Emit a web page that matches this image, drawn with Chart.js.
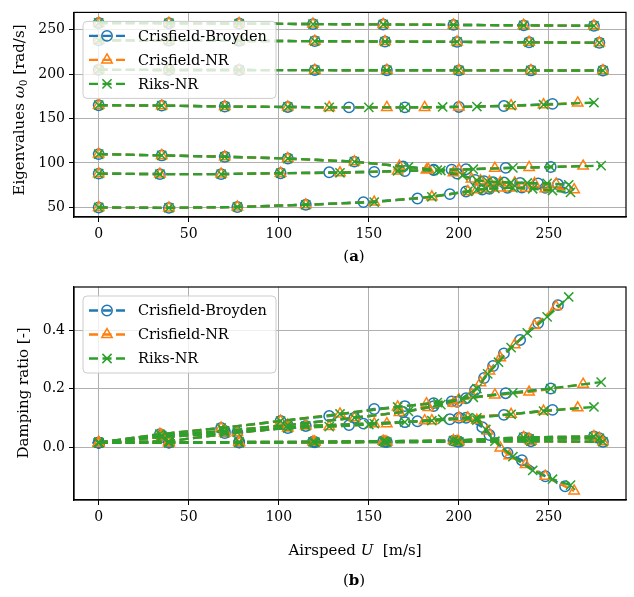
<!DOCTYPE html>
<html><head><meta charset="utf-8">
<script src="https://cdn.jsdelivr.net/npm/chart.js@4.4.0/dist/chart.umd.min.js"></script>
<style>
html,body{margin:0;padding:0;background:#fff;}
#wrap{position:relative;width:634px;height:597px;overflow:hidden;}
#c1{position:absolute;left:0;top:0;}
#c2{position:absolute;left:0;top:270px;}
</style></head><body>
<div id="wrap"><canvas id="c1" width="634" height="270"></canvas><canvas id="c2" width="634" height="327"></canvas></div>
<script>
// ---------- data ----------
const METHODS = ['Crisfield-Broyden', 'Crisfield-NR', 'Riks-NR'];
const X_TICKS = [0, 50, 100, 150, 200, 250];
const W_TICKS = [50, 100, 150, 200, 250];
const Z_TICKS = [0.0, 0.2, 0.4];

// modes 1-3 (identical for all three methods)
const U_M1 = [0, 39, 78, 119, 158, 197, 236, 275];
const W_M1 = [257.5, 257.2, 256.8, 256.2, 255.8, 255.3, 254.8, 254.2];
const Z_M1 = [0.015, 0.016, 0.017, 0.018, 0.020, 0.022, 0.033, 0.036];
const U_M2 = [0, 39, 78, 120, 159, 199, 239, 278];
const W_M2 = [238, 237.6, 237.3, 237, 236.6, 236.2, 235.7, 235.2];
const Z_M2 = [0.015, 0.015, 0.016, 0.017, 0.018, 0.020, 0.028, 0.030];
const U_M3 = [0, 39, 78, 120, 160, 200, 240, 280];
const W_M3 = [204.8, 204.6, 204.5, 204.4, 204.3, 204.2, 204.1, 204];
const Z_M3 = [0.015, 0.015, 0.015, 0.016, 0.017, 0.018, 0.020, 0.018];

// mode 4
const U_CB_M4 = [0, 35, 70, 105, 139, 170, 200, 225, 252];
const W_CB_M4 = [165, 164.5, 163.5, 163, 162.5, 162.5, 163, 164, 166.5];
const Z_CB_M4 = [0.015, 0.034, 0.048, 0.065, 0.075, 0.085, 0.100, 0.110, 0.127];
const U_NR_M4 = [0, 35, 70, 105, 128, 160, 181, 200, 229, 247, 266];
const W_NR_M4 = [165, 164.5, 163.5, 163, 162.5, 162.5, 162.5, 163, 164.5, 165.5, 167.5];
const Z_NR_M4 = [0.015, 0.034, 0.048, 0.065, 0.070, 0.080, 0.090, 0.100, 0.112, 0.123, 0.134];
const U_RK_M4 = [0, 35, 70, 105, 128, 150, 170, 191, 210, 229, 247, 275];
const W_RK_M4 = [165, 164.5, 163.5, 163, 162.5, 162.5, 162.5, 163, 163.5, 164.5, 165.5, 168];
const Z_RK_M4 = [0.015, 0.034, 0.048, 0.065, 0.070, 0.077, 0.085, 0.095, 0.100, 0.112, 0.123, 0.137];

// mode 5
const U_CB_M5 = [0, 35, 70, 105, 142, 169, 186, 199, 209, 214, 219, 225, 234, 244, 255];
const W_CB_M5 = [110, 108.5, 107, 105, 101.5, 96, 92.5, 88, 81, 79.5, 78.5, 78, 77.5, 77, 76];
const Z_CB_M5 = [0.015, 0.040, 0.055, 0.075, 0.100, 0.120, 0.140, 0.155, 0.195, 0.236, 0.277, 0.320, 0.366, 0.424, 0.485];
const U_NR_M5 = [0, 35, 70, 105, 142, 167, 183, 197, 207, 212, 217, 223, 231, 242, 254];
const W_NR_M5 = [110, 108.5, 107, 105, 101.5, 96.5, 93, 89, 82, 80, 79, 78, 77.5, 77, 76.5];
const Z_NR_M5 = [0.015, 0.040, 0.055, 0.075, 0.100, 0.118, 0.135, 0.150, 0.180, 0.220, 0.260, 0.305, 0.350, 0.415, 0.480];
const U_RK_M5 = [0, 35, 70, 105, 142, 172, 190, 202, 210, 216, 222, 229, 238, 249, 261];
const W_RK_M5 = [110, 108.5, 107, 105, 101.5, 95.5, 91.5, 86, 80.5, 79, 78.5, 78, 77.5, 77, 75.5];
const Z_RK_M5 = [0.015, 0.040, 0.055, 0.075, 0.100, 0.122, 0.145, 0.165, 0.200, 0.250, 0.290, 0.340, 0.390, 0.445, 0.513];

// mode 6
const U_CB_M6 = [0, 34, 68, 101, 128, 153, 170, 186, 196, 204, 226, 251];
const W_CB_M6 = [88, 87.5, 87.5, 88.5, 89.5, 90, 91, 92, 92.5, 93, 94.5, 95.5];
const Z_CB_M6 = [0.015, 0.044, 0.065, 0.089, 0.106, 0.130, 0.140, 0.150, 0.156, 0.167, 0.184, 0.200];
const U_NR_M6 = [0, 34, 68, 101, 134, 166, 182, 200, 220, 239, 269];
const W_NR_M6 = [88, 87.5, 87.5, 88.5, 89, 91, 92, 92.5, 94, 95, 96.5];
const Z_NR_M6 = [0.015, 0.044, 0.065, 0.089, 0.113, 0.137, 0.148, 0.162, 0.178, 0.188, 0.215];
const U_RK_M6 = [0, 34, 68, 101, 134, 166, 188, 208, 230, 251, 279];
const W_RK_M6 = [88, 87.5, 87.5, 88.5, 89, 91, 92, 93, 94.5, 95.5, 97];
const Z_RK_M6 = [0.015, 0.044, 0.065, 0.089, 0.113, 0.137, 0.152, 0.170, 0.185, 0.200, 0.222];

// mode 7
const U_CB_M7 = [0, 39, 77, 115, 147, 177, 195, 204, 213, 217, 227, 235, 248, 259];
const W_CB_M7 = [50, 49.5, 50.5, 53, 56, 60, 65, 68, 70, 71, 72, 72.5, 72, 72];
const Z_CB_M7 = [0.015, 0.020, 0.050, 0.072, 0.080, 0.088, 0.095, 0.100, 0.068, 0.041, -0.020, -0.045, -0.100, -0.134];
const U_NR_M7 = [0, 39, 77, 115, 153, 185, 205, 210, 216, 223, 228, 237, 248, 264];
const W_NR_M7 = [50, 49.5, 50.5, 53, 56, 62, 68, 70, 71, 72, 72, 71.5, 71, 70];
const Z_NR_M7 = [0.015, 0.020, 0.050, 0.072, 0.080, 0.090, 0.100, 0.092, 0.055, -0.003, -0.030, -0.060, -0.100, -0.150];
const U_RK_M7 = [0, 39, 77, 115, 153, 185, 205, 210, 215, 220, 230, 241, 252, 262];
const W_RK_M7 = [50, 49.5, 50.5, 53, 56, 62, 68, 70, 71, 71.5, 72, 71, 69, 67];
const Z_RK_M7 = [0.015, 0.020, 0.050, 0.072, 0.080, 0.090, 0.100, 0.092, 0.060, 0.020, -0.033, -0.080, -0.110, -0.130];

// ---------- assembly ----------
const SERIES = [
  [0, U_M1, W_M1, Z_M1], [1, U_M1, W_M1, Z_M1], [2, U_M1, W_M1, Z_M1],
  [0, U_M2, W_M2, Z_M2], [1, U_M2, W_M2, Z_M2], [2, U_M2, W_M2, Z_M2],
  [0, U_M3, W_M3, Z_M3], [1, U_M3, W_M3, Z_M3], [2, U_M3, W_M3, Z_M3],
  [0, U_CB_M4, W_CB_M4, Z_CB_M4], [1, U_NR_M4, W_NR_M4, Z_NR_M4], [2, U_RK_M4, W_RK_M4, Z_RK_M4],
  [0, U_CB_M5, W_CB_M5, Z_CB_M5], [1, U_NR_M5, W_NR_M5, Z_NR_M5], [2, U_RK_M5, W_RK_M5, Z_RK_M5],
  [0, U_CB_M6, W_CB_M6, Z_CB_M6], [1, U_NR_M6, W_NR_M6, Z_NR_M6], [2, U_RK_M6, W_RK_M6, Z_RK_M6],
  [0, U_CB_M7, W_CB_M7, Z_CB_M7], [1, U_NR_M7, W_NR_M7, Z_NR_M7], [2, U_RK_M7, W_RK_M7, Z_RK_M7]
];
const COLORS = ['#1f77b4', '#ff7f0e', '#2ca02c'];
const PSTYLE = ['circle', 'triangle', 'crossRot'];
const PRAD = [5.2, 6, 6.5];
const DASH = [9, 4.5];
const FONT = '"DejaVu Serif", "Liberation Serif", serif';

function makeDatasets(which) {
  return SERIES.map(s => {
    const m = s[0], U = s[1], V = s[which];
    return {
      label: METHODS[m],
      data: U.map((u, i) => ({x: u, y: V[i]})),
      showLine: true,
      borderColor: COLORS[m],
      borderWidth: 2.4,
      borderDash: DASH,
      pointStyle: PSTYLE[m],
      pointRadius: PRAD[m],
      pointBorderWidth: 1.5,
      pointBorderColor: COLORS[m],
      pointBackgroundColor: 'rgba(0,0,0,0)',
      order: 3 - m,
      tension: 0
    };
  });
}

function drawRich(ctx, parts, cx, cy, rot) {
  ctx.save();
  ctx.translate(cx, cy);
  ctx.rotate(rot);
  let total = 0;
  parts.forEach(p => { ctx.font = p.f; p.w = ctx.measureText(p.t).width; total += p.w; });
  let x = -total / 2;
  ctx.textBaseline = 'middle';
  ctx.textAlign = 'left';
  ctx.fillStyle = '#000';
  parts.forEach(p => { ctx.font = p.f; ctx.fillText(p.t, x, p.dy || 0); x += p.w; });
  ctx.restore();
}

function drawMarker(ctx, m, x, y) {
  ctx.save();
  ctx.setLineDash([]);
  ctx.strokeStyle = COLORS[m];
  ctx.fillStyle = 'rgba(0,0,0,0)';
  ctx.lineWidth = 1.5;
  Chart.helpers.drawPoint(ctx, {pointStyle: PSTYLE[m], radius: PRAD[m], rotation: 0, borderWidth: 1.5}, x, y);
  ctx.restore();
}

const framePlugin = {
  id: 'frame',
  afterDraw(chart, args, opts) {
    const ctx = chart.ctx, a = chart.chartArea;
    ctx.save();
    ctx.strokeStyle = '#000';
    ctx.lineWidth = 1.2;
    ctx.strokeRect(a.left, a.top, a.right - a.left, a.bottom - a.top);
    ctx.restore();
    (opts.texts || []).forEach(t => drawRich(ctx, t.parts, t.x, t.y, t.rot || 0));
  }
};

const legendPlugin = {
  id: 'mplLegend',
  afterDatasetsDraw(chart) {
    const ctx = chart.ctx, a = chart.chartArea;
    const bx = a.left + 9, by = a.top + 9, bw = 193, bh = 77;
    ctx.save();
    ctx.beginPath();
    if (ctx.roundRect) ctx.roundRect(bx, by, bw, bh, 4); else ctx.rect(bx, by, bw, bh);
    ctx.fillStyle = 'rgba(255,255,255,0.8)';
    ctx.fill();
    ctx.strokeStyle = '#cccccc';
    ctx.lineWidth = 1;
    ctx.stroke();
    METHODS.forEach((name, m) => {
      const y = by + 14.5 + m * 24;
      ctx.save();
      ctx.strokeStyle = COLORS[m];
      ctx.lineWidth = 2.4;
      ctx.setLineDash(DASH);
      ctx.beginPath();
      ctx.moveTo(bx + 6, y);
      ctx.lineTo(bx + 42, y);
      ctx.stroke();
      ctx.restore();
      drawMarker(ctx, m, bx + 24, y);
      ctx.fillStyle = '#000';
      ctx.font = '14.5px ' + FONT;
      ctx.textBaseline = 'middle';
      ctx.textAlign = 'left';
      ctx.fillText(name, bx + 55, y + 1);
    });
    ctx.restore();
  }
};

function scales(yMin, yMax, yTicks, yFmt, xHeight) {
  const tickFont = {family: FONT, size: 14};
  return {
    x: {
      type: 'linear', min: -13.7, max: 292.8,
      afterBuildTicks: s => { s.ticks = X_TICKS.map(v => ({value: v})); },
      afterFit: s => { s.height = xHeight; },
      ticks: {font: tickFont, color: '#000', padding: 4, maxRotation: 0, callback: v => String(v)},
      grid: {color: '#b0b0b0', lineWidth: 1, tickLength: 5, tickColor: '#000', drawTicks: true},
      border: {display: true, color: '#000', width: 1.2}
    },
    y: {
      type: 'linear', min: yMin, max: yMax,
      afterBuildTicks: s => { s.ticks = yTicks.map(v => ({value: v})); },
      afterFit: s => { s.width = 74; },
      ticks: {font: tickFont, color: '#000', padding: 4, callback: yFmt},
      grid: {color: '#b0b0b0', lineWidth: 1, tickLength: 5, tickColor: '#000', drawTicks: true},
      border: {display: true, color: '#000', width: 1.2}
    }
  };
}

const common = {
  responsive: false,
  animation: false,
  events: [],
  plugins: {legend: {display: false}, tooltip: {enabled: false}}
};

new Chart(document.getElementById('c1'), {
  type: 'scatter',
  data: {datasets: makeDatasets(2)},
  options: Object.assign({}, common, {
    layout: {padding: {top: 3, right: 1, left: 0, bottom: 0}},
    scales: scales(39.25, 269.35, W_TICKS, v => String(v), 53),
    plugins: Object.assign({}, common.plugins, {
      frame: {texts: [
        {x: 20, y: 110, rot: -Math.PI / 2, parts: [
          {t: 'Eigenvalues ', f: '15px ' + FONT},
          {t: 'ω', f: 'italic 15px ' + FONT},
          {t: '0', f: '10.5px ' + FONT, dy: 4},
          {t: ' [rad/s]', f: '15px ' + FONT}
        ]},
        {x: 354, y: 257, parts: [
          {t: '(', f: '15px ' + FONT},
          {t: 'a', f: 'bold 15px ' + FONT},
          {t: ')', f: '15px ' + FONT}
        ]}
      ]}
    })
  }),
  plugins: [framePlugin, legendPlugin]
});

new Chart(document.getElementById('c2'), {
  type: 'scatter',
  data: {datasets: makeDatasets(3)},
  options: Object.assign({}, common, {
    layout: {padding: {top: 17, right: 1, left: 0, bottom: 0}},
    scales: scales(-0.181, 0.547, Z_TICKS, v => v.toFixed(1), 97),
    plugins: Object.assign({}, common.plugins, {
      frame: {texts: [
        {x: 24, y: 123, rot: -Math.PI / 2, parts: [
          {t: 'Damping ratio [-]', f: '15px ' + FONT}
        ]},
        {x: 355, y: 281, parts: [
          {t: 'Airspeed ', f: '15px ' + FONT},
          {t: 'U', f: 'italic 15px ' + FONT},
          {t: '  [m/s]', f: '15px ' + FONT}
        ]},
        {x: 354, y: 311, parts: [
          {t: '(', f: '15px ' + FONT},
          {t: 'b', f: 'bold 15px ' + FONT},
          {t: ')', f: '15px ' + FONT}
        ]}
      ]}
    })
  }),
  plugins: [framePlugin, legendPlugin]
});
</script>
</body></html>
